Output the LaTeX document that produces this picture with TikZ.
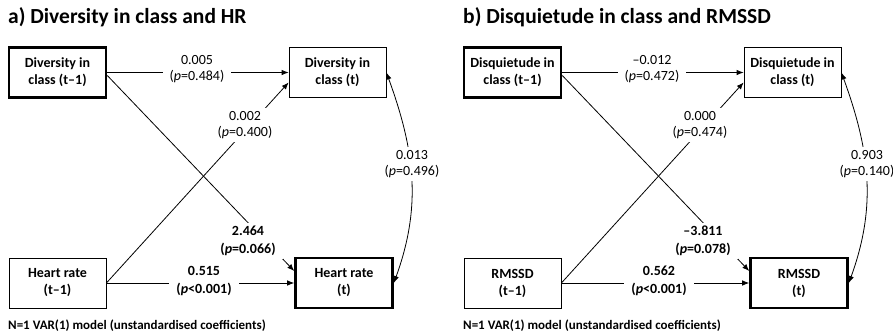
\documentclass[tikz,border=0pt]{standalone}
\usepackage{fontspec}
\setmainfont{Carlito}
\usetikzlibrary{arrows.meta}

\tikzset{
  box/.style={draw, line width=0.8pt, minimum width=97pt, minimum height=50pt,
    align=center, inner sep=0pt, font=\bfseries\fontsize{14}{17}\selectfont},
  keybox/.style={box, line width=2.6pt},
  lbl/.style={fill=white, align=center, inner xsep=7pt, inner ysep=3pt,
    font=\fontsize{14}{16}\selectfont},
  blbl/.style={lbl, font=\bfseries\fontsize{14}{17.5}\selectfont},
  arr/.style={-{Latex[length=7pt,width=5.5pt]}, line width=0.8pt},
  twoarr/.style={{Latex[length=7pt,width=5.5pt]}-{Latex[length=7pt,width=5.5pt]}, line width=0.8pt},
  paneltitle/.style={anchor=west, inner sep=0pt, font=\bfseries\fontsize{21.5}{25}\selectfont},
  footnote/.style={anchor=west, inner sep=0pt, font=\bfseries\fontsize{13}{15}\selectfont}
}

\begin{document}
\begin{tikzpicture}[x=1pt, y=-1pt]
\useasboundingbox (0,0) rectangle (893,333);

% ---------- a) Diversity in class and HR ----------
\node[paneltitle] (ta) at (8,17) {a) Diversity in class and HR};
\node[keybox] (a1) at (57.5,72.5) {Diversity in\\class (t–1)};
\node[box]    (a2) at (337.5,72.5) {Diversity in\\class (t)};
\node[box]    (a3) at (57.5,283) {Heart rate\\(t–1)};
\node[keybox] (a4) at (344,283) {Heart rate\\(t)};

\draw[arr] (a1.east) -- (a2.west);
\draw[arr] ([yshift=-3pt]a1.east) -- ([yshift=12pt]a4.west);
\draw[arr] (a3.east) -- ([yshift=-10pt]a2.west);
\draw[arr] (a3.east) -- (a4.west);
\draw[twoarr] (a2.east) to[out=-70, in=70] (a4.east);

\node[lbl]  (la1) at (197,69)  {0.005\\(\textit{p}=0.484)};
\node[lbl]  (la2) at (245,125) {0.002\\(\textit{p}=0.400)};
\node[blbl] (la3) at (248,241) {2.464\\(\textit{p}=0.066)};
\node[blbl] (la4) at (204,281) {0.515\\(\textit{p}<0.001)};
\node[lbl]  (la5) at (412,164) {0.013\\(\textit{p}=0.496)};

\node[footnote] (fa) at (8,326) {N=1 VAR(1) model (unstandardised coefficients)};

% ---------- b) Disquietude in class and RMSSD ----------
\begin{scope}[xshift=455pt]
\node[paneltitle] (tb) at (8,17) {b) Disquietude in class and RMSSD};
\node[keybox] (b1) at (57.5,72.5) {Disquietude in\\class (t–1)};
\node[box]    (b2) at (337.5,72.5) {Disquietude in\\class (t)};
\node[box]    (b3) at (57.5,283) {RMSSD\\(t–1)};
\node[keybox] (b4) at (344,283) {RMSSD\\(t)};

\draw[arr] (b1.east) -- (b2.west);
\draw[arr] ([yshift=-3pt]b1.east) -- ([yshift=12pt]b4.west);
\draw[arr] (b3.east) -- ([yshift=-10pt]b2.west);
\draw[arr] (b3.east) -- (b4.west);
\draw[twoarr] (b2.east) to[out=-70, in=70] (b4.east);

\node[lbl]  (lb1) at (197,69)  {–0.012\\(\textit{p}=0.472)};
\node[lbl]  (lb2) at (245,125) {0.000\\(\textit{p}=0.474)};
\node[blbl] (lb3) at (248,241) {–3.811\\(\textit{p}=0.078)};
\node[blbl] (lb4) at (204,281) {0.562\\(\textit{p}<0.001)};
\node[lbl]  (lb5) at (412,164) {0.903\\(\textit{p}=0.140)};

\node[footnote] (fb) at (8,326) {N=1 VAR(1) model (unstandardised coefficients)};
\end{scope}
\end{tikzpicture}
\end{document}
